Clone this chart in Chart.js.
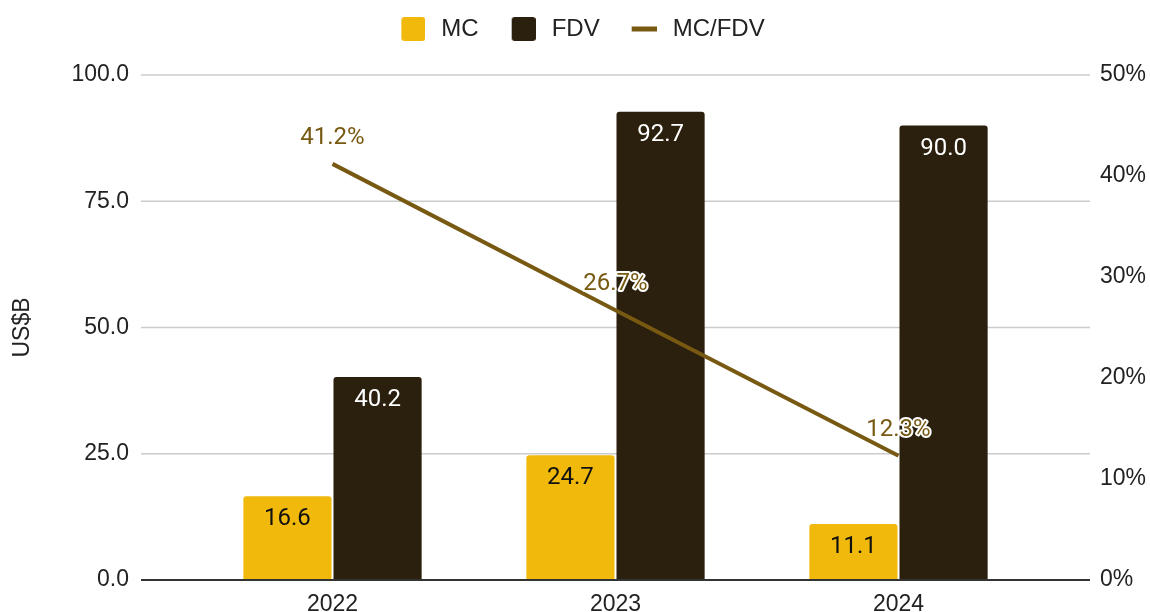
<!DOCTYPE html>
<html>
<head>
<meta charset="utf-8">
<script src="https://cdn.jsdelivr.net/npm/chart.js"></script>
<style>
  body { margin: 0; background: #fff; overflow: hidden; }
  canvas { display: block; }
</style>
</head>
<body>
<canvas id="chart" width="1150" height="612"></canvas>
<script>
// datos
const years = ['2022', '2023', '2024'];
const mcValues = [16.6, 24.7, 11.1];      // US$B
const fdvValues = [40.2, 92.7, 90.0];     // US$B
const ratioValues = [41.2, 26.7, 12.3];   // %
const seriesNames = ['MC', 'FDV', 'MC/FDV'];

const mcColor = '#F0B90B';
const fdvColor = '#2B1F0D';
const lineColor = '#775912';
const textColor = '#222222';

Chart.defaults.font.family = '"Liberation Sans", Arial, sans-serif';
Chart.defaults.font.size = 23;
Chart.defaults.color = textColor;

// iconos de la leyenda (cuadro o barra fina, pegados a la derecha del lienzo)
function legendIcon(color, w, h, r) {
  const c = document.createElement('canvas');
  c.width = 27; c.height = 24;
  const g = c.getContext('2d');
  g.fillStyle = color;
  g.beginPath();
  g.roundRect(27 - w, (24 - h) / 2, w, h, r);
  g.fill();
  return c;
}
const legendIcons = [
  legendIcon(mcColor, 24, 24, 3),
  legendIcon(fdvColor, 24, 24, 3),
  legendIcon(lineColor, 25, 5, 0)
];

// más espacio debajo de la leyenda
const legendMargin = {
  id: 'legendMargin',
  beforeInit(chart) {
    const fit = chart.legend.fit;
    chart.legend.fit = function () {
      fit.call(this);
      this.height += 24;
    };
  }
};

// líneas de la grilla que se salen del área de categorías
const gridExt = 50;
const gridLines = {
  id: 'gridLines',
  beforeDatasetsDraw(chart) {
    const { ctx, chartArea, scales: { y } } = chart;
    ctx.save();
    ctx.strokeStyle = '#cccccc';
    ctx.lineWidth = 1.5;
    y.ticks.forEach(t => {
      if (t.value === 0) return;
      const py = y.getPixelForValue(t.value);
      ctx.beginPath();
      ctx.moveTo(chartArea.left - gridExt, py);
      ctx.lineTo(chartArea.right + gridExt, py);
      ctx.stroke();
    });
    ctx.restore();
  },
  afterDatasetsDraw(chart) {
    const { ctx, chartArea, scales: { y } } = chart;
    const py = y.getPixelForValue(0);
    ctx.save();
    ctx.strokeStyle = '#333333';
    ctx.lineWidth = 2;
    ctx.beginPath();
    ctx.moveTo(chartArea.left - gridExt, py);
    ctx.lineTo(chartArea.right + gridExt, py);
    ctx.stroke();
    ctx.restore();
  }
};

// etiquetas de valores
const valueLabels = {
  id: 'valueLabels',
  afterDatasetsDraw(chart) {
    const ctx = chart.ctx;
    ctx.save();
    ctx.textAlign = 'center';
    ctx.textBaseline = 'middle';
    ctx.font = '24px Roboto';
    chart.data.datasets.forEach((ds, i) => {
      const meta = chart.getDatasetMeta(i);
      meta.data.forEach((el, j) => {
        const v = ds.data[j];
        if (ds.type === 'line') {
          const txt = v.toFixed(1) + '%';
          ctx.lineWidth = 4;
          ctx.lineJoin = 'round';
          ctx.strokeStyle = '#ffffff';
          ctx.strokeText(txt, el.x, el.y - 26);
          ctx.fillStyle = lineColor;
          ctx.fillText(txt, el.x, el.y - 26);
        } else {
          ctx.fillStyle = ds.labelColor;
          ctx.fillText(v.toFixed(1), el.x, el.y + 23);
        }
      });
    });
    ctx.restore();
  }
};

// marcas de eje invisibles: sólo separan las etiquetas del área
const hiddenTicks = (len) => ({
  display: true,
  drawOnChartArea: false,
  drawTicks: true,
  tickLength: len,
  tickColor: 'rgba(0,0,0,0)'
});

const ctx = document.getElementById('chart').getContext('2d');
new Chart(ctx, {
  data: {
    labels: years,
    datasets: [
      {
        type: 'bar',
        label: seriesNames[0],
        data: mcValues,
        backgroundColor: mcColor,
        labelColor: '#111111',
        borderRadius: { topLeft: 3, topRight: 3 },
        categoryPercentage: 0.637,
        barPercentage: 0.978,
        yAxisID: 'y',
        order: 2
      },
      {
        type: 'bar',
        label: seriesNames[1],
        data: fdvValues,
        backgroundColor: fdvColor,
        labelColor: '#ffffff',
        borderRadius: { topLeft: 3, topRight: 3 },
        categoryPercentage: 0.637,
        barPercentage: 0.978,
        yAxisID: 'y',
        order: 3
      },
      {
        type: 'line',
        label: seriesNames[2],
        data: ratioValues,
        borderColor: lineColor,
        backgroundColor: lineColor,
        borderWidth: 4,
        pointRadius: 0,
        tension: 0,
        yAxisID: 'y1',
        order: 1
      }
    ]
  },
  options: {
    responsive: false,
    animation: false,
    layout: { padding: { left: 9, right: 0, top: -9, bottom: 0 } },
    plugins: {
      legend: {
        position: 'top',
        labels: {
          usePointStyle: true,
          pointStyleWidth: 35,
          padding: 26,
          color: textColor,
          font: { size: 24 },
          sort: (a, b) => a.datasetIndex - b.datasetIndex,
          generateLabels(chart) {
            const items = Chart.defaults.plugins.legend.labels.generateLabels(chart);
            items.forEach(it => { it.pointStyle = legendIcons[it.datasetIndex]; });
            return items;
          }
        }
      },
      tooltip: { enabled: false }
    },
    scales: {
      x: {
        grid: { display: false },
        border: { display: false },
        ticks: { padding: 5, color: textColor, font: { lineHeight: 1.0 } },
        afterFit(s) { s.height = 32; }
      },
      y: {
        position: 'left',
        min: 0,
        max: 100,
        grid: hiddenTicks(62),
        border: { display: false },
        ticks: {
          stepSize: 25,
          padding: 0,
          color: textColor,
          callback: v => v.toFixed(1)
        },
        title: {
          display: true,
          text: 'US$B',
          color: textColor,
          font: { size: 23 },
          padding: 0
        },
        afterFit(s) { s.width = 182; }
      },
      y1: {
        position: 'right',
        min: 0,
        max: 50,
        grid: hiddenTicks(60),
        border: { display: false },
        ticks: {
          stepSize: 10,
          padding: 0,
          color: textColor,
          callback: v => v + '%'
        },
        afterFit(s) { s.width = 110; }
      }
    }
  },
  plugins: [legendMargin, gridLines, valueLabels]
});
</script>
</body>
</html>
